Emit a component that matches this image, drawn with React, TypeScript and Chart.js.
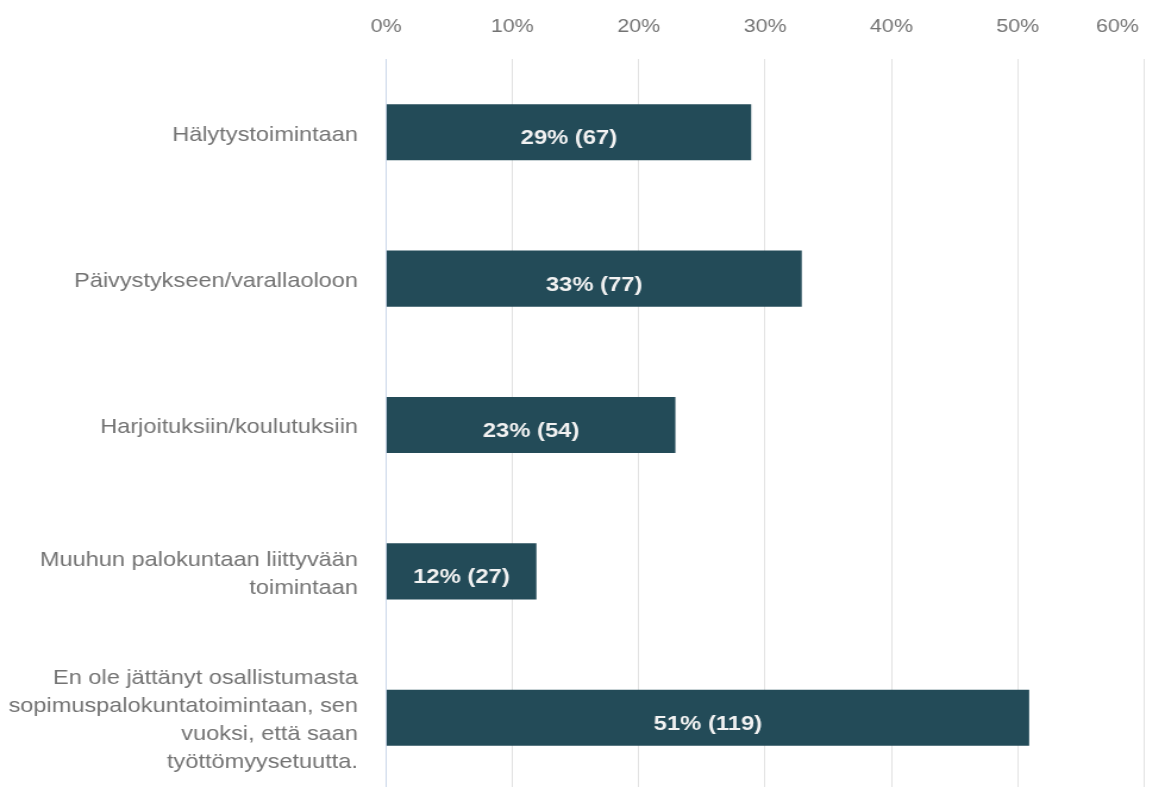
import React, { useEffect, useRef } from "react";
import { Chart, registerables } from "chart.js";

Chart.register(...registerables);

const categories: (string | string[])[] = [
  "Hälytystoimintaan",
  "Päivystykseen/varallaoloon",
  "Harjoituksiin/koulutuksiin",
  ["Muuhun palokuntaan liittyvään", "toimintaan"],
  [
    "En ole jättänyt osallistumasta",
    "sopimuspalokuntatoimintaan, sen",
    "vuoksi, että saan",
    "työttömyysetuutta.",
  ],
];
const values = [28.9, 32.9, 22.9, 11.9, 50.9];
const percentLabels = [29, 33, 23, 12, 51];
const counts = [67, 77, 54, 27, 119];
const xTicks = [0, 10, 20, 30, 40, 50, 60];

const FONT = "'Liberation Sans', Arial, Helvetica, sans-serif";
const STRETCH = 1.19;
const CANVAS_W = 1002;
const CANVAS_H = 805;

const barLabelPlugin = {
  id: "barLabels",
  afterDatasetsDraw(chart: any) {
    const ctx = chart.ctx;
    const meta = chart.getDatasetMeta(0);
    ctx.save();
    ctx.font = `bold 20px ${FONT}`;
    ctx.fillStyle = "#f2f2f2";
    ctx.textAlign = "center";
    ctx.textBaseline = "alphabetic";
    meta.data.forEach((el: any, i: number) => {
      const { x, y, base } = el.getProps(["x", "y", "base"], true);
      ctx.fillText(`${percentLabels[i]}% (${counts[i]})`, (x + base) / 2, y + 12);
    });
    ctx.restore();
  },
};

export default function App() {
  const ref = useRef<HTMLCanvasElement | null>(null);
  useEffect(() => {
    if (!ref.current) return;
    const chart = new Chart(ref.current, {
      type: "bar",
      data: {
        labels: categories,
        datasets: [
          {
            data: values,
            backgroundColor: "#234b58",
            borderWidth: 0,
            barPercentage: 0.383,
            categoryPercentage: 1,
          },
        ],
      },
      plugins: [barLabelPlugin],
      options: {
        indexAxis: "y",
        animation: false,
        responsive: false,
        devicePixelRatio: 1,
        layout: { padding: 0 },
        plugins: {
          legend: { display: false },
          tooltip: { enabled: false },
        },
        scales: {
          x: {
            position: "top",
            min: 0,
            max: 60,
            afterBuildTicks: (scale: any) => {
              scale.ticks = xTicks.map((v) => ({ value: v }));
            },
            afterFit: (scale: any) => {
              scale.height = 59;
            },
            ticks: {
              padding: 0,
              color: "#737373",
              font: { family: FONT, size: 18 },
              callback: (v: any) =>
                Number(v) === 60 ? `${v}%         ` : `${v}%`,
            },
            grid: {
              color: "#e2e2e2",
              drawTicks: true,
              tickLength: 21,
              tickColor: "rgba(0,0,0,0)",
            },
            border: { display: false },
          },
          y: {
            afterFit: (scale: any) => {
              scale.width = 324.4;
            },
            ticks: {
              padding: 0,
              labelOffset: 3,
              color: "#737373",
              font: { family: FONT, size: 19.8, lineHeight: 1.414 },
            },
            grid: {
              display: false,
              drawTicks: true,
              tickLength: 23.6,
            },
            border: { display: true, color: "#cdd8ea", width: 1 },
          },
        },
      },
    });
    return () => chart.destroy();
  }, []);

  return (
    <div
      style={{
        position: "fixed",
        top: 0,
        left: 0,
        width: 1158,
        height: 787,
        overflow: "hidden",
        background: "#ffffff",
      }}
    >
      <div
        style={{
          width: CANVAS_W,
          height: CANVAS_H,
          transform: `scaleX(${STRETCH})`,
          transformOrigin: "0 0",
        }}
      >
        <canvas ref={ref} width={CANVAS_W} height={CANVAS_H} />
      </div>
    </div>
  );
}
